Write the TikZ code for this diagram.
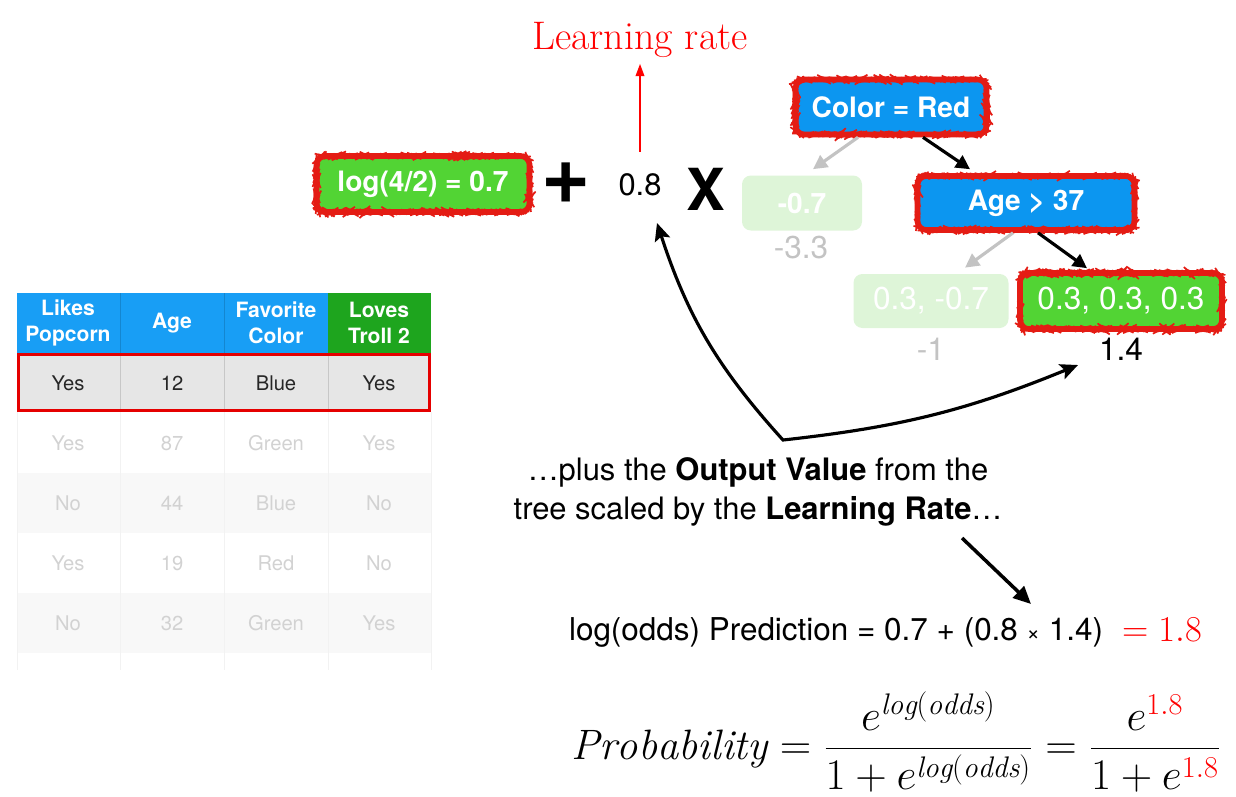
\documentclass[tikz,border=0pt]{standalone}
\usepackage{fontspec}
\setsansfont{TeX Gyre Heros}
\usepackage{xcolor}
\usepackage{tikz}
\usetikzlibrary{arrows.meta, calc, decorations.pathmorphing}
\definecolor{BoxBlue}{RGB}{12,150,240}
\definecolor{HeadBlue}{RGB}{24,158,245}
\definecolor{BoxGreen}{RGB}{82,212,52}
\definecolor{HeadGreen}{RGB}{30,165,30}
\definecolor{PaleGreen}{RGB}{222,245,216}
\definecolor{RoughRed}{RGB}{228,28,20}
\definecolor{Faded}{RGB}{195,195,195}
\definecolor{FadedTab}{RGB}{210,210,210}
\definecolor{RowGray}{RGB}{230,230,230}
\definecolor{RowLight}{RGB}{248,248,248}

\begin{document}
\begin{tikzpicture}[x=0.02cm, y=-0.02cm,
    treebox/.style={rounded corners=5pt, inner sep=0pt, text=white,
        font=\sffamily\bfseries\fontsize{16}{19}\selectfont},
    rough/.style={draw=RoughRed, line width=3.2pt,
        postaction={draw=RoughRed, line width=0.9pt, decorate,
            decoration={random steps, segment length=1pt, amplitude=0.35pt}}},
    faded/.style={treebox, fill=PaleGreen},
    leaf/.style={font=\sffamily\fontsize{18}{21}\selectfont},
    tarrow/.style={line width=1.8pt, -{Triangle[length=8pt, width=8pt]}},
    head/.style={align=center, text=white, font=\sffamily\bfseries\fontsize{12}{14.8}\selectfont},
    cell/.style={text=FadedTab, font=\sffamily\fontsize{11.5}{14}\selectfont}]

    \useasboundingbox (0,0) rectangle (1236,796);
    \pgfmathsetseed{7}

    %% --- Table ---
    \fill[HeadBlue] (17,293) rectangle (328,353);
    \fill[HeadGreen] (328,293) rectangle (431,353);
    \fill[RowGray] (17,353) rectangle (431,412);
    \fill[RowLight] (17,473) rectangle (431,533);
    \fill[RowLight] (17,593) rectangle (431,653);
    \draw[HeadBlue!85!black, line width=0.3pt] (120,293) -- (120,353) (224,293) -- (224,353);
    \draw[black!22, line width=0.4pt] (120,353) -- (120,412) (224,353) -- (224,412) (328,353) -- (328,412);
    \draw[black!5, line width=0.4pt] (120,412) -- (120,670) (224,412) -- (224,670) (328,412) -- (328,670)
        (17,412) -- (17,670) (431,412) -- (431,670);
    \draw[red!90!black, line width=1.7pt] (18.5,354.5) rectangle (429.5,410.5);

    \node[head] (hPop) at (68,323) {Likes\\Popcorn};
    \node[head] (hAge) at (172,323) {Age};
    \node[head] (hCol) at (276,323) {Favorite\\Color};
    \node[head] (hLov) at (379,323) {Loves\\Troll 2};

    \node[cell, text=black!85] (r1a) at (68,383) {Yes};
    \node[cell, text=black!85] (r1b) at (172,383) {12};
    \node[cell, text=black!85] (r1c) at (276,383) {Blue};
    \node[cell, text=black!85] (r1d) at (379,383) {Yes};

    \node[cell] (r2a) at (68,443) {Yes};
    \node[cell] (r2b) at (172,443) {87};
    \node[cell] (r2c) at (276,443) {Green};
    \node[cell] (r2d) at (379,443) {Yes};

    \node[cell] (r3a) at (68,503) {No};
    \node[cell] (r3b) at (172,503) {44};
    \node[cell] (r3c) at (276,503) {Blue};
    \node[cell] (r3d) at (379,503) {No};

    \node[cell] (r4a) at (68,563) {Yes};
    \node[cell] (r4b) at (172,563) {19};
    \node[cell] (r4c) at (276,563) {Red};
    \node[cell] (r4d) at (379,563) {No};

    \node[cell] (r5a) at (68,623) {No};
    \node[cell] (r5b) at (172,623) {32};
    \node[cell] (r5c) at (276,623) {Green};
    \node[cell] (r5d) at (379,623) {Yes};

    %% --- Initial prediction + learning rate x tree ---
    \node[treebox, rough, fill=BoxGreen, minimum width=4.26cm, minimum height=1.12cm] (base) at (423,184) {log(4/2) = 0.7};
    \node[font=\sffamily\bfseries\fontsize{48}{48}\selectfont] (plus) at (566,183) {+};
    \node[inner sep=1pt, font=\sffamily\fontsize{17.6}{21}\selectfont] (lr) at (640,185) {0.8};
    \node[font=\sffamily\bfseries\fontsize{33}{33}\selectfont] (times) at (706,189) {X};

    \node[text=red, font=\fontsize{22.7}{26}\selectfont] (lrtxt) at (640,40) {Learning rate};
    \draw[red, line width=0.8pt, -{Triangle[length=7pt, width=5pt]}, shorten <=0.4cm] (lr) -- (lrtxt);

    %% --- Tree ---
    \node[treebox, rough, fill=BoxBlue, minimum width=3.82cm, minimum height=1.10cm] (color) at (891,107) {Color = Red};
    \node[treebox, rough, fill=BoxBlue, minimum width=4.34cm, minimum height=1.08cm] (age) at (1026,203) {Age > 37};
    \node[faded, minimum width=2.4cm, minimum height=1.1cm] (leafA) at (802,203) {-0.7};
    \node[faded, leaf, minimum width=3.1cm, minimum height=1.08cm] (leafB) at (931,301) {0.3, -0.7};
    \node[treebox, rough, leaf, fill=BoxGreen, minimum width=4.04cm, minimum height=1.12cm] (leafC) at (1121,301) {0.3, 0.3, 0.3};

    \node[leaf, text=Faded] (resA) at (801,248) {-3.3};
    \node[leaf, text=Faded] (resB) at (931,349) {-1};
    \node[leaf] (resC) at (1121,349) {1.4};

    \draw[tarrow, Faded] ($(color.south)+(-33,0)$) -- ($(leafA.north)+(11,-6)$);
    \draw[tarrow] ($(color.south)+(32,0)$) -- ($(age.north)+(-56,-4)$);
    \draw[tarrow, Faded] ($(age.south)+(-13,0)$) -- ($(leafB.north)+(34,-6)$);
    \draw[tarrow] ($(age.south)+(12,0)$) -- ($(leafC.north)+(-34,-2)$);

    %% Curved double arrow from the output value back to the 0.8
    \coordinate (tipA) at (657,223);
    \coordinate (cusp) at (783,440);
    \coordinate (tipB) at (1078,365);
    \draw[line width=1.8pt, {Stealth[length=10pt, width=9pt, inset=2pt]}-{Stealth[length=10pt, width=9pt, inset=2pt]}]
        (tipA) to[bend right=12] (cusp) to[bend right=8] (tipB);

    %% --- Explanation and result ---
    \node[align=center, font=\sffamily\fontsize{17.6}{22.2}\selectfont] (caption) at (758,492)
        {\dots plus the \textbf{Output Value} from the\\tree scaled by the \textbf{Learning Rate}\dots};

    \coordinate (capA) at (962,538);
    \coordinate (capB) at (1031,604);
    \draw[line width=2pt, -{Triangle[length=10pt, width=9pt]}] (capA) -- (capB);

    \node[font=\sffamily\fontsize{17.9}{21}\selectfont] (pred) at (836,632)
        {log(odds) Prediction = 0.7 + (0.8 {\fontsize{13}{13}\selectfont ×} 1.4)};
    \node[text=red, font=\fontsize{21.5}{24}\selectfont] (predval) at (1162,630) {$= 1.8$};

    \node[font=\fontsize{24.2}{28}\selectfont] (prob) at (896,742)
        {$\displaystyle \mathit{Probability} = \frac{e^{\mathit{log}(\mathit{odds})}}{1+e^{\mathit{log}(\mathit{odds})}}
        = \frac{e^{\textcolor{red}{1.8}}}{1+e^{\textcolor{red}{1.8}}}$};

\end{tikzpicture}
\end{document}
